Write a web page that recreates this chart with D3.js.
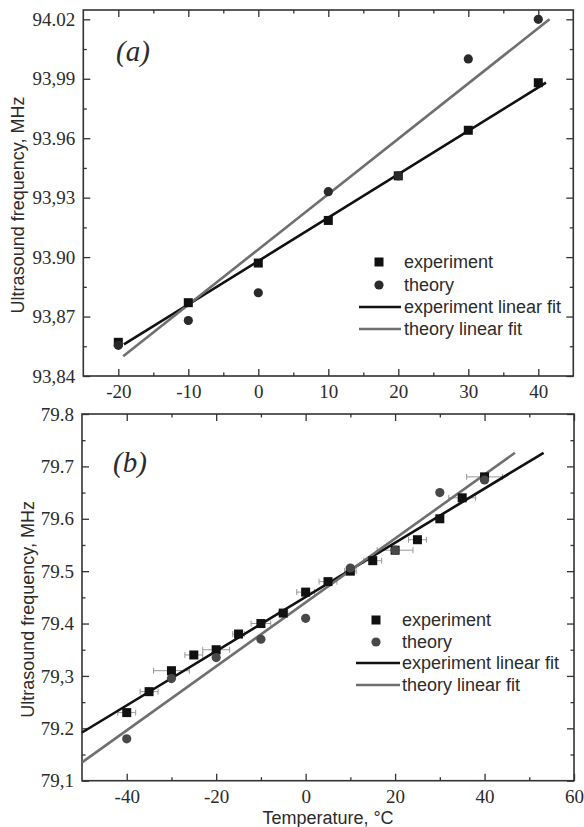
<!DOCTYPE html>
<html>
<head>
<meta charset="utf-8">
<script src="https://cdn.jsdelivr.net/npm/d3@7"></script>
<style>
  body { margin: 0; background: #fff; }
  text { fill: #2b2b2b; }
</style>
</head>
<body>
<script>
//图(a)的数据
const tempA = [-20, -10, 0, 10, 20, 30, 40];
const expA = [93.857, 93.877, 93.897, 93.9185, 93.941, 93.964, 93.988];
const theoryA = [93.8555, 93.868, 93.882, 93.933, 93.941, 94.0, 94.02];
const expFitA = [[-19.2, 93.856], [41.1, 93.988]];
const theoryFitA = [[-19.3, 93.850], [41.6, 94.020]];
const xTicksA = [-20, -10, 0, 10, 20, 30, 40];
const yTicksA = [93.84, 93.87, 93.90, 93.93, 93.96, 93.99, 94.02];
const yLabelsA = ["93,84", "93,87", "93.90", "93,93", "93.96", "93,99", "94.02"];

//图(b)的数据
const expTempB = [-40, -35, -30, -25, -20, -15, -10, -5, 0, 5, 10, 15, 20, 25, 30, 35, 40];
const expB = [79.23, 79.27, 79.31, 79.34, 79.35, 79.38, 79.40, 79.42, 79.46, 79.48, 79.50, 79.52, 79.54, 79.56, 79.60, 79.64, 79.68];
const expErrB = [2, 2, 4, 2, 3, 1.3, 2.2, 1, 2, 2, 1.3, 2, 4, 2, 0, 3, 4];
const theoryTempB = [-40, -30, -20, -10, 0, 10, 20, 30, 40];
const theoryB = [79.18, 79.295, 79.335, 79.37, 79.41, 79.506, 79.54, 79.65, 79.674];
const expFitB = [[-50, 79.192], [53.2, 79.726]];
const theoryFitB = [[-50, 79.135], [46.8, 79.726]];
const xTicksB = [-40, -20, 0, 20, 40, 60];
const yTicksB = [79.1, 79.2, 79.3, 79.4, 79.5, 79.6, 79.7, 79.8];
const yLabelsB = ["79,1", "79.2", "79,3", "79.4", "79.5", "79.6", "79.7", "79.8"];

const legendNames = ["experiment", "theory", "experiment linear fit", "theory linear fit"];

const w = 584;
const h = 827;

const svg = d3.select("body")
  .append("svg")
  .attr("width", w)
  .attr("height", h);

svg.append("rect").attr("width", w).attr("height", h).attr("fill", "#fff");

function drawPanel(p) {
  const x = d3.scaleLinear().domain(p.xDomain).range([p.left, p.right]);
  const y = d3.scaleLinear().domain(p.yDomain).range([p.bottom, p.top]);
  const g = svg.append("g");

  //刻度：四边都朝内
  const minorX = p.xMinor, minorY = p.yMinor;
  const addAxis = (axis, tx, ty, labels) => {
    const a = g.append("g")
      .attr("transform", `translate(${tx},${ty})`)
      .call(axis);
    a.select(".domain").remove();
    a.selectAll("line").attr("stroke", "#333").attr("stroke-width", 1.3);
    a.selectAll("text")
      .style("font-family", "'Liberation Serif', 'Times New Roman', serif")
      .style("font-size", "19px")
      .attr("fill", "#2b2b2b");
    if (!labels) a.selectAll("text").remove();
  };
  //用普通连字符作负号
  const fmtX = d => String(d);
  const fmtY = d => p.yLabels[p.yTicks.indexOf(d)];

  addAxis(d3.axisBottom(x).tickValues(p.xTicks).tickSize(-7).tickPadding(8.5).tickFormat(fmtX), 0, p.bottom, true);
  addAxis(d3.axisBottom(x).tickValues(minorX).tickSize(-3.5).tickFormat(""), 0, p.bottom, false);
  addAxis(d3.axisTop(x).tickValues(p.xTicks).tickSize(-7), 0, p.top, false);
  addAxis(d3.axisTop(x).tickValues(minorX).tickSize(-3.5), 0, p.top, false);
  addAxis(d3.axisLeft(y).tickValues(p.yTicks).tickSize(-7).tickPadding(8).tickFormat(fmtY), p.left, 0, true);
  addAxis(d3.axisLeft(y).tickValues(minorY).tickSize(-3.5).tickFormat(""), p.left, 0, false);
  addAxis(d3.axisRight(y).tickValues(p.yTicks).tickSize(-7), p.right, 0, false);
  addAxis(d3.axisRight(y).tickValues(minorY).tickSize(-3.5), p.right, 0, false);

  //外框
  g.append("rect")
    .attr("x", p.left).attr("y", p.top)
    .attr("width", p.right - p.left).attr("height", p.bottom - p.top)
    .attr("fill", "none").attr("stroke", "#333").attr("stroke-width", 1.6);

  //误差棒
  if (p.err) {
    const eb = g.selectAll(".err")
      .data(p.expX.map((t, i) => ({t: t, v: p.expY[i], e: p.err[i]})).filter(d => d.e > 0))
      .enter().append("g");
    eb.append("line")
      .attr("x1", d => x(d.t - d.e)).attr("x2", d => x(d.t + d.e))
      .attr("y1", d => y(d.v)).attr("y2", d => y(d.v));
    eb.append("line")
      .attr("x1", d => x(d.t - d.e)).attr("x2", d => x(d.t - d.e))
      .attr("y1", d => y(d.v) - 3).attr("y2", d => y(d.v) + 3);
    eb.append("line")
      .attr("x1", d => x(d.t + d.e)).attr("x2", d => x(d.t + d.e))
      .attr("y1", d => y(d.v) - 3).attr("y2", d => y(d.v) + 3);
    eb.selectAll("line").attr("stroke", "#999").attr("stroke-width", 1);
  }

  //拟合直线
  const line = d3.line().x(d => x(d[0])).y(d => y(d[1]));
  g.append("path").attr("d", line(p.expFit))
    .attr("fill", "none").attr("stroke", "#111").attr("stroke-width", 2.6);
  g.append("path").attr("d", line(p.theoryFit))
    .attr("fill", "none").attr("stroke", "#6f6f6f").attr("stroke-width", 2.6);

  //数据点
  g.selectAll(".sq")
    .data(p.expX)
    .enter().append("rect")
    .attr("x", (d, i) => x(d) - 4.5)
    .attr("y", (d, i) => y(p.expY[i]) - 4.5)
    .attr("width", 9).attr("height", 9)
    .attr("fill", "#111");
  g.selectAll(".ci")
    .data(p.theoryX)
    .enter().append("circle")
    .attr("cx", d => x(d))
    .attr("cy", (d, i) => y(p.theoryY[i]))
    .attr("r", 4.6)
    .attr("fill", p.circleColor);

  //面板标记
  g.append("text")
    .attr("x", p.tagX).attr("y", p.tagY)
    .style("font-family", "'Liberation Serif', 'Times New Roman', serif")
    .style("font-style", "italic")
    .style("font-size", "29px")
    .text(p.tag);

  //图例
  const lg = g.append("g");
  lg.append("rect")
    .attr("x", p.legMarkX - 4.5).attr("y", p.legY[0] - 4.5)
    .attr("width", 9).attr("height", 9).attr("fill", "#111");
  lg.append("circle")
    .attr("cx", p.legMarkX).attr("cy", p.legY[1]).attr("r", 4.6).attr("fill", p.circleColor);
  lg.append("line")
    .attr("x1", p.legLineX[0]).attr("x2", p.legLineX[1])
    .attr("y1", p.legY[2]).attr("y2", p.legY[2])
    .attr("stroke", "#111").attr("stroke-width", 2.6);
  lg.append("line")
    .attr("x1", p.legLineX[0]).attr("x2", p.legLineX[1])
    .attr("y1", p.legY[3]).attr("y2", p.legY[3])
    .attr("stroke", "#6f6f6f").attr("stroke-width", 2.6);
  lg.selectAll("text")
    .data(legendNames)
    .enter().append("text")
    .attr("x", p.legTextX)
    .attr("y", (d, i) => p.legY[i])
    .attr("dy", "0.35em")
    .style("font-family", "'Liberation Sans', Arial, sans-serif")
    .style("font-size", "18px")
    .text(d => d);

  //纵轴标题
  g.append("text")
    .attr("transform", `translate(${p.yTitleX},${(p.top + p.bottom) / 2 + p.yTitleShift}) rotate(-90)`)
    .attr("text-anchor", "middle")
    .attr("dy", "0.35em")
    .style("font-family", "'Liberation Sans', Arial, sans-serif")
    .style("font-size", "18px")
    .text("Ultrasound frequency, MHz");

  return {x: x, y: y};
}

drawPanel({
  left: 83.3, right: 573.3, top: 10, bottom: 376,
  xDomain: [-25, 45], yDomain: [93.84, 94.0247],
  xTicks: xTicksA, xMinor: [-15, -5, 5, 15, 25, 35],
  yTicks: yTicksA, yLabels: yLabelsA,
  yMinor: [93.855, 93.885, 93.915, 93.945, 93.975, 94.005],
  expX: tempA, expY: expA, theoryX: tempA, theoryY: theoryA,
  expFit: expFitA, theoryFit: theoryFitA,
  circleColor: "#2a2a2a",
  tag: "(a)", tagX: 116, tagY: 61,
  legMarkX: 379, legTextX: 404, legLineX: [359, 401],
  legY: [262, 285, 307, 329],
  yTitleX: 18, yTitleShift: 12
});

drawPanel({
  left: 82, right: 574, top: 414, bottom: 780.7,
  xDomain: [-50, 60], yDomain: [79.1, 79.8],
  xTicks: xTicksB, xMinor: [-30, -10, 10, 30, 50],
  yTicks: yTicksB, yLabels: yLabelsB,
  yMinor: [79.15, 79.25, 79.35, 79.45, 79.55, 79.65, 79.75],
  expX: expTempB, expY: expB, err: expErrB,
  theoryX: theoryTempB, theoryY: theoryB,
  expFit: expFitB, theoryFit: theoryFitB,
  circleColor: "#484848",
  tag: "(b)", tagX: 113, tagY: 472,
  legMarkX: 376, legTextX: 402, legLineX: [356, 400],
  legY: [620, 642, 663, 685],
  yTitleX: 28, yTitleShift: 12
});

//横轴标题
svg.append("text")
  .attr("x", 328).attr("y", 823.5)
  .attr("text-anchor", "middle")
  .style("font-family", "'Liberation Sans', Arial, sans-serif")
  .style("font-size", "18px")
  .text("Temperature, °C");
</script>
</body>
</html>
